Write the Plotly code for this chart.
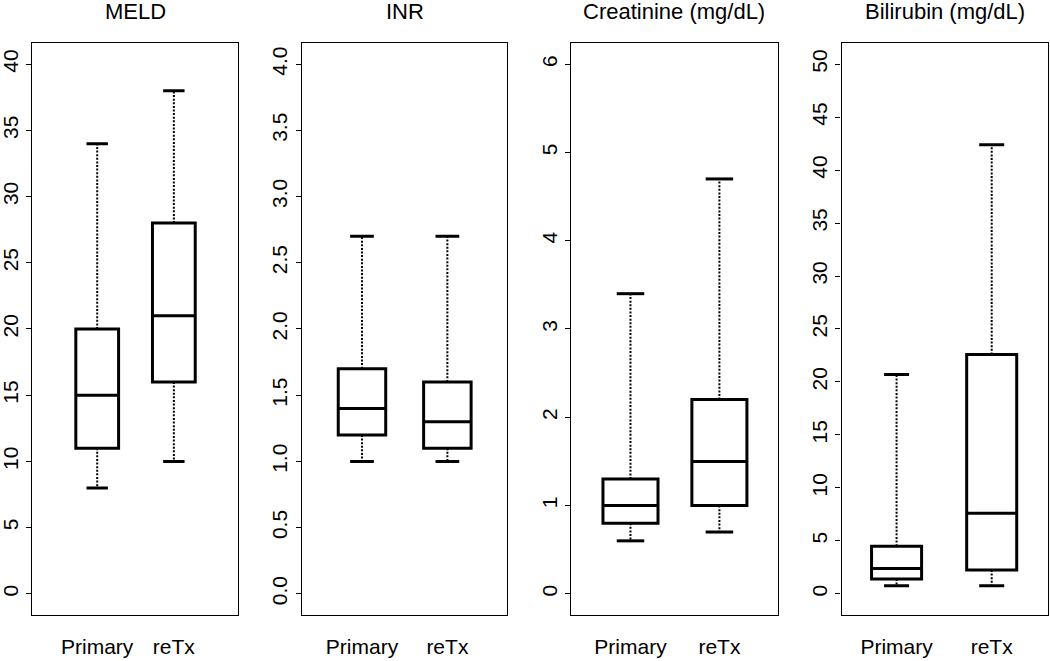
import plotly.graph_objects as go

# ---- data ----
panels = ["MELD", "INR", "Creatinine (mg/dL)", "Bilirubin (mg/dL)"]
groups = ["Primary", "reTx"]

meld_low = [8, 10]
meld_q1 = [11, 16]
meld_med = [15, 21]
meld_q3 = [20, 28]
meld_high = [34, 38]

inr_low = [1.0, 1.0]
inr_q1 = [1.2, 1.1]
inr_med = [1.4, 1.3]
inr_q3 = [1.7, 1.6]
inr_high = [2.7, 2.7]

creat_low = [0.6, 0.7]
creat_q1 = [0.8, 1.0]
creat_med = [1.0, 1.5]
creat_q3 = [1.3, 2.2]
creat_high = [3.4, 4.7]

bili_low = [0.75, 0.75]
bili_q1 = [1.4, 2.25]
bili_med = [2.4, 7.6]
bili_q3 = [4.5, 22.6]
bili_high = [20.7, 42.4]

y_max = [40, 4, 6, 50]
y_step = [5, 0.5, 1, 5]
y_fmt = ["d", ".1f", "d", "d"]

# ---- layout / style per panel ----
x_domains = [(0.03076, 0.22695), (0.28733, 0.48333), (0.54381, 0.74095), (0.80143, 0.99810)]
x_ranges = [(0.153, 2.841), (0.294, 2.704), (0.331, 2.659), (0.421, 2.592)]
box_widths = [0.558, 0.556, 0.619, 0.526]
y_domain = (0.06959, 0.93495)

stats = [
    (meld_low, meld_q1, meld_med, meld_q3, meld_high),
    (inr_low, inr_q1, inr_med, inr_q3, inr_high),
    (creat_low, creat_q1, creat_med, creat_q3, creat_high),
    (bili_low, bili_q1, bili_med, bili_q3, bili_high),
]

FONT = "Liberation Sans, Arial, Helvetica, sans-serif"
fig = go.Figure()
xpos = [1, 2]

for i, (lo, q1, med, q3, hi) in enumerate(stats):
    ax = "" if i == 0 else str(i + 1)
    xref, yref = "x" + ax, "y" + ax
    w = box_widths[i]
    # dotted whiskers
    wx, wy = [], []
    for j, xp in enumerate(xpos):
        wx += [xp, xp, None, xp, xp, None]
        wy += [q3[j], hi[j], None, q1[j], lo[j], None]
    fig.add_trace(go.Scatter(x=wx, y=wy, mode="lines", xaxis=xref, yaxis=yref,
                             line=dict(color="black", width=2, dash="2px,1.6px"),
                             hoverinfo="skip", showlegend=False))
    # staples
    cx, cy = [], []
    for j, xp in enumerate(xpos):
        for v in (hi[j], lo[j]):
            cx += [xp - w / 4, xp + w / 4, None]
            cy += [v, v, None]
    fig.add_trace(go.Scatter(x=cx, y=cy, mode="lines", xaxis=xref, yaxis=yref,
                             line=dict(color="black", width=3),
                             hoverinfo="skip", showlegend=False))
    # boxes (quartiles + median)
    fig.add_trace(go.Box(x=xpos, q1=q1, median=med, q3=q3,
                         lowerfence=q1, upperfence=q3,
                         width=w, whiskerwidth=0, boxpoints=False,
                         fillcolor="white", line=dict(color="black", width=3),
                         xaxis=xref, yaxis=yref, showlegend=False,
                         hoverinfo="skip"))

    n = int(round(y_max[i] / y_step[i]))
    tv = [k * y_step[i] for k in range(n + 1)]
    fig.update_layout(**{
        "xaxis" + ax: dict(domain=list(x_domains[i]), range=list(x_ranges[i]),
                           anchor=yref, tickvals=xpos, ticktext=groups,
                           ticks="", showgrid=False, zeroline=False, automargin=False,
                           showline=True, mirror=True, linecolor="black", linewidth=1.2,
                           tickfont=dict(family=FONT, size=21, color="black"),
                           ticklabelstandoff=13),
        "yaxis" + ax: dict(domain=list(y_domain),
                           range=[-0.04 * y_max[i], 1.04 * y_max[i]],
                           anchor=xref, tickvals=tv, tickformat=y_fmt[i],
                           ticks="outside", ticklen=5, tickwidth=1, tickcolor="black",
                           tickangle=-90, showgrid=False, zeroline=False, automargin=False,
                           showline=True, mirror=True, linecolor="black", linewidth=1.2,
                           tickfont=dict(family=FONT, size=21, color="black"),
                           ticklabelstandoff=0),
    })
    fig.add_annotation(text=panels[i], xref="paper", yref="paper",
                       x=sum(x_domains[i]) / 2, y=(661 - 12) / 661,
                       xanchor="center", yanchor="middle", showarrow=False,
                       font=dict(family=FONT, size=22, color="black"))

fig.update_layout(width=1050, height=661, margin=dict(l=0, r=0, t=0, b=0),
                  paper_bgcolor="white", plot_bgcolor="white", showlegend=False)

fig.write_html("out.html", config={"displayModeBar": False},
               post_script="document.body.style.margin='0';document.body.style.padding='0';")
